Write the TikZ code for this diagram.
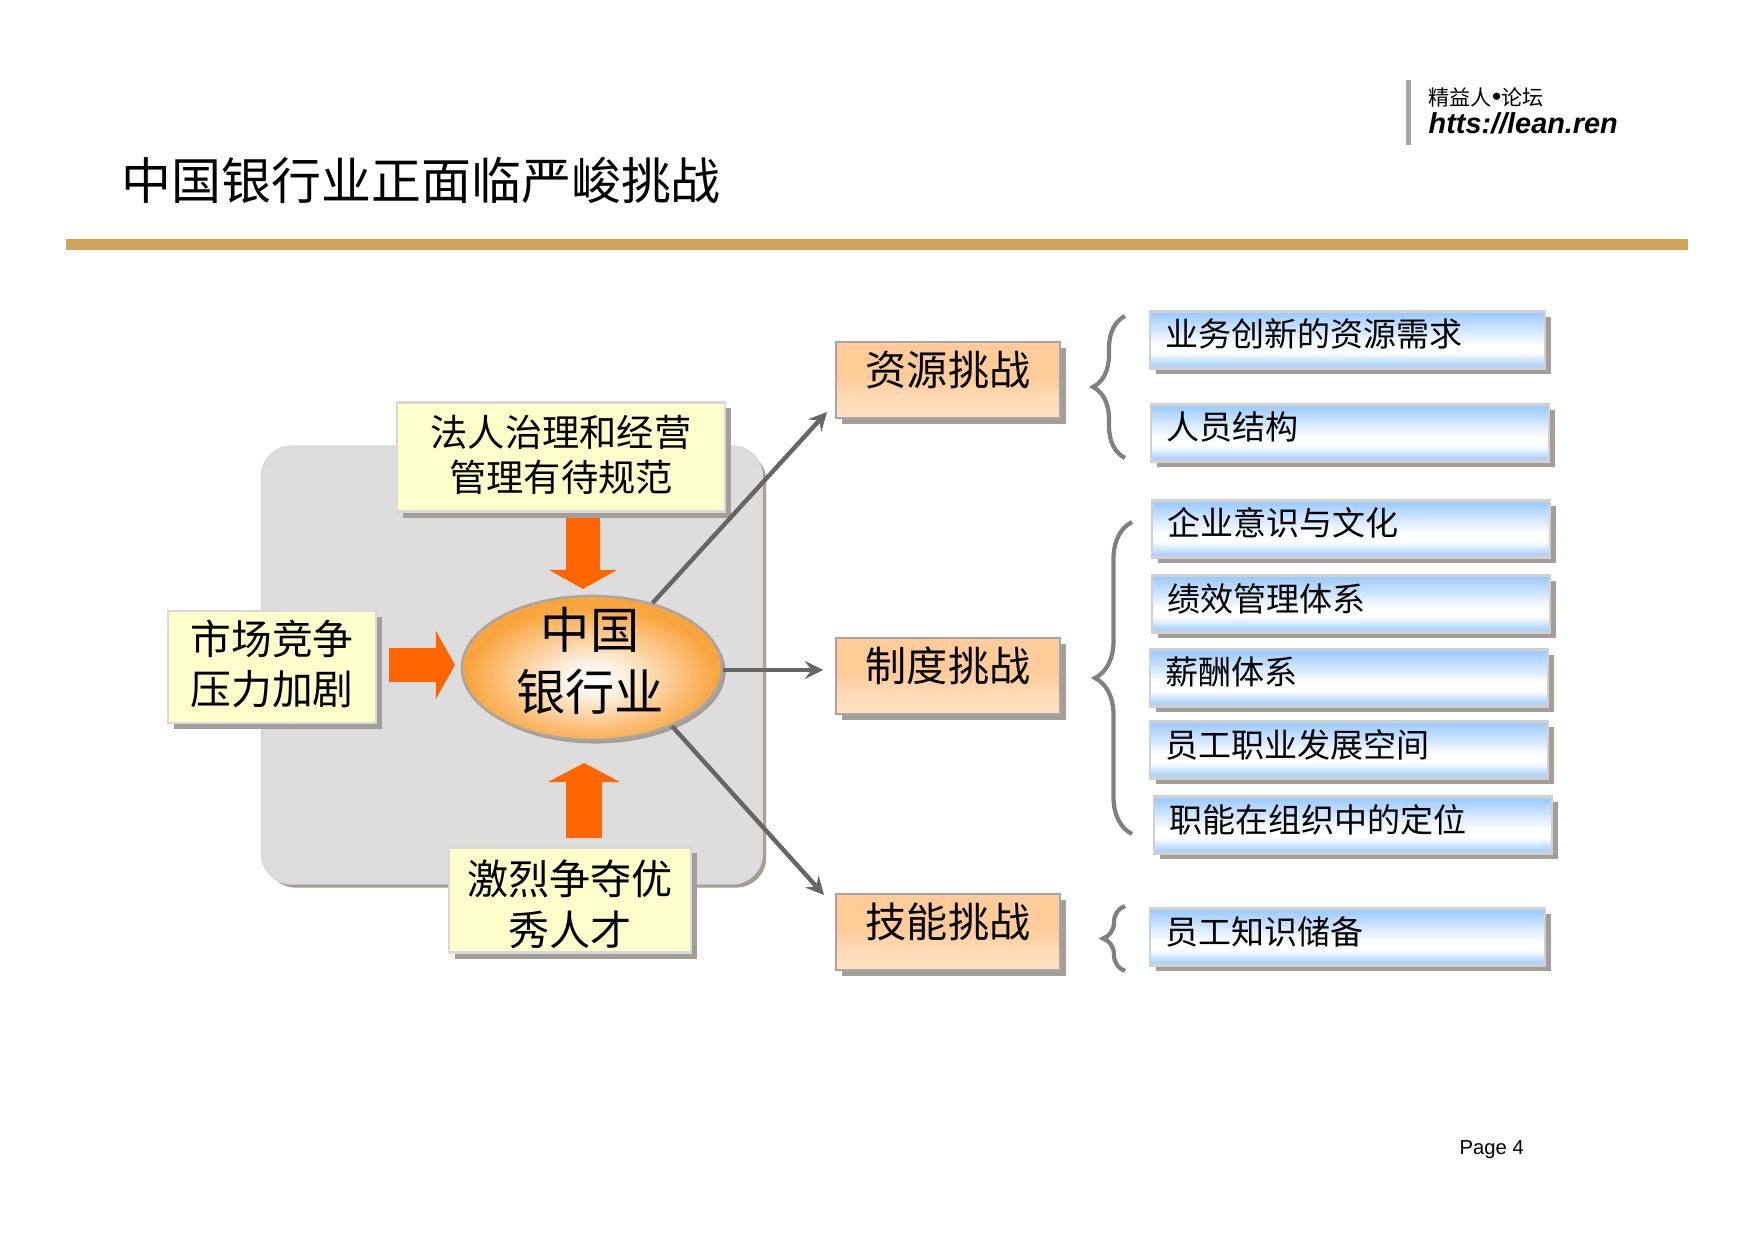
\documentclass[tikz,border=0pt]{standalone}
\usepackage{fontspec}
\setmainfont{Noto Sans CJK SC}
\newfontfamily\arialfont{Liberation Sans}
\usetikzlibrary{arrows,arrows.meta}
\usetikzlibrary{shapes.geometric,shadows}
\usetikzlibrary{decorations.pathreplacing}
\definecolor{rulegold}{HTML}{CFA55B}
\definecolor{rulegrey}{HTML}{A6A6A6}
\definecolor{shadowgrey}{HTML}{A59D98}
\definecolor{panelgrey}{HTML}{DDDDDD}
\definecolor{pushorange}{HTML}{FF6600}
\definecolor{linkgrey}{HTML}{666666}
\definecolor{bracegrey}{HTML}{808080}
\definecolor{paleyellow}{HTML}{FFFFCC}
\definecolor{peach}{HTML}{FFCC99}
\definecolor{barblue}{HTML}{96C8FF}
\definecolor{bankorange}{HTML}{F9A53E}
\pgfdeclareverticalshading{barfill}{100bp}{color(0bp)=(barblue); color(25bp)=(barblue); color(39bp)=(white); color(46bp)=(white); color(75bp)=(barblue); color(100bp)=(barblue)}
\pgfdeclareverticalshading{peachfill}{100bp}{color(0bp)=(peach!60!white); color(25bp)=(peach!60!white); color(37bp)=(peach!70!white); color(52bp)=(peach); color(100bp)=(peach)}
\pgfdeclareradialshading{bankfill}{\pgfpoint{0bp}{-4bp}}{color(0bp)=(white); color(6bp)=(white!85!bankorange); color(24bp)=(bankorange); color(100bp)=(bankorange)}
\newcommand{\liftline}[2]{\raisebox{#1}[0.88em][0.12em]{#2}}

\begin{document}
\begin{tikzpicture}
    [line cap=butt,line join=miter,x=0.01cm,y=-0.01cm,
     boxshadow/.style={drop shadow={shadow xshift=#1,shadow yshift=-#1,fill=shadowgrey,opacity=1}},
     forcebox/.style={draw=black!15,line width=0.6pt,fill=paleyellow,boxshadow=0.06cm,align=center,inner sep=0pt},
     challenge/.style={draw=black!35,line width=0.6pt,shading=peachfill,boxshadow=0.06cm,inner sep=0pt,
       text width=2.23cm,align=center,text height=0.436cm,text depth=0.324cm,font=\fontsize{11.7}{14}\selectfont},
     needbar/.style={draw=black!18,line width=0.6pt,shading=barfill,boxshadow=0.055cm,anchor=west,
       inner xsep=0.15cm,inner ysep=0pt,text width=3.68cm,align=left,text height=0.355cm,text depth=0.215cm,
       font=\fontsize{9.4}{11}\selectfont},
     pusharrow/.style={pushorange,line width=0.34cm,-{Triangle[width=0.67cm,length=0.19cm]}},
     linkarrow/.style={linkgrey,line width=1.25pt,-stealth},
     curly/.style={bracegrey,line width=1.2pt,decorate,decoration={brace,amplitude=#1,aspect=0.5}}]
  \useasboundingbox (0,0) rectangle (1754,1240);

%heading
  \node [anchor=west,inner sep=0pt,font=\fontsize{14.2}{17}\selectfont] (title) at (121,180) {中国银行业正面临严峻挑战};
  \fill [rulegold] (66,239) rectangle (1688,250);
  \fill [rulegrey] (1406,80) rectangle (1411,145);
  \node [anchor=west,inner sep=0pt,font=\fontsize{6}{7}\selectfont] (forum) at (1428,97) {精益人{\arialfont\fontsize{7.5}{7}\selectfont •}论坛};
  \node [anchor=west,inner sep=0pt,font=\arialfont\bfseries\itshape\fontsize{8.2}{10}\selectfont] (site) at (1428,123) {htts://lean.ren};
  \node [anchor=west,inner sep=0pt,font=\arialfont\fontsize{5.75}{7}\selectfont] (page) at (1459,1150) {Page 4};

%left side
  \node [draw=white!85!black,line width=0.6pt,fill=panelgrey,rounded corners=0.3cm,boxshadow=0.04cm,minimum width=5cm,minimum height=4.37cm] (panel) at (512,665) {};

  \coordinate (legalout) at (583,516);
  \coordinate (legalin) at (583,589);
  \coordinate (marketout) at (389,665);
  \coordinate (marketin) at (455,665);
  \coordinate (talentout) at (584,838);
  \coordinate (talentin) at (584,763);
  \draw [pusharrow] (legalout) -- (legalin);
  \draw [pusharrow] (marketout) -- (marketin);
  \draw [pusharrow,line width=0.36cm,-{Triangle[width=0.71cm,length=0.19cm]}] (talentout) -- (talentin);

  \node [ellipse,draw=black!35,line width=0.7pt,shading=bankfill,boxshadow=0.035cm,minimum width=2.6cm,minimum height=1.44cm,inner sep=0pt] (bank) at (592,668) {};
  \node [align=center,inner sep=0pt,font=\fontsize{14}{17.5}\selectfont] (banktext) at (590,661) {中国\\银行业};

  \node [forcebox,minimum width=3.28cm,minimum height=1.09cm,font=\fontsize{10.6}{13}\selectfont] (legal) at (561,457) {\liftline{0.6pt}{法人治理和经营}\\\liftline{0.6pt}{管理有待规范}};
  \node [forcebox,minimum width=2.08cm,minimum height=1.12cm,font=\fontsize{11.6}{14.3}\selectfont] (market) at (272,667) {\liftline{0.9pt}{市场竞争}\\\liftline{0.9pt}{压力加剧}};
  \node [forcebox,minimum width=2.41cm,minimum height=1.05cm,font=\fontsize{11.7}{14.3}\selectfont] (talent) at (570,900) {\liftline{-1.2pt}{激烈争夺优}\\\liftline{-1.2pt}{秀人才}};

%three challenges
  \node [challenge] (resource) at (948,380) {资源挑战};
  \node [challenge] (system) at (948,676) {制度挑战};
  \node [challenge] (skill) at (948,932) {技能挑战};

  \coordinate (resourcetip) at (827,412);
  \coordinate (systemtip) at (823,670);
  \coordinate (skilltip) at (824,895);
  \draw [linkarrow] (bank.47) -- (resourcetip);
  \draw [linkarrow] (bank.east |- systemtip) -- (systemtip);
  \draw [linkarrow] (bank.-36) -- (skilltip);

%braces
  \coordinate (braceAtop) at (1125,316);
  \coordinate (braceAbot) at (1125,458);
  \coordinate (braceBtop) at (1132,522);
  \coordinate (braceBbot) at (1132,834);
  \coordinate (braceCtop) at (1125,906);
  \coordinate (braceCbot) at (1125,971);
  \draw [curly=0.32cm] (braceAbot) -- (braceAtop);
  \draw [curly=0.37cm] (braceBbot) -- (braceBtop);
  \draw [curly=0.22cm] (braceCbot) -- (braceCtop);

%right bars
  \node [needbar,text width=3.65cm] (barA) at (1149,340) {业务创新的资源需求};
  \node [needbar] (barB) at (1150,433) {人员结构};
  \node [needbar] (barC) at (1151,529) {企业意识与文化};
  \node [needbar] (barD) at (1151,604) {绩效管理体系};
  \node [needbar] (barE) at (1149,678) {薪酬体系};
  \node [needbar] (barF) at (1149,750) {员工职业发展空间};
  \node [needbar] (barG) at (1153,825) {职能在组织中的定位};
  \node [needbar,text width=3.65cm] (barH) at (1149,937) {员工知识储备};

\end{tikzpicture}
\end{document}
